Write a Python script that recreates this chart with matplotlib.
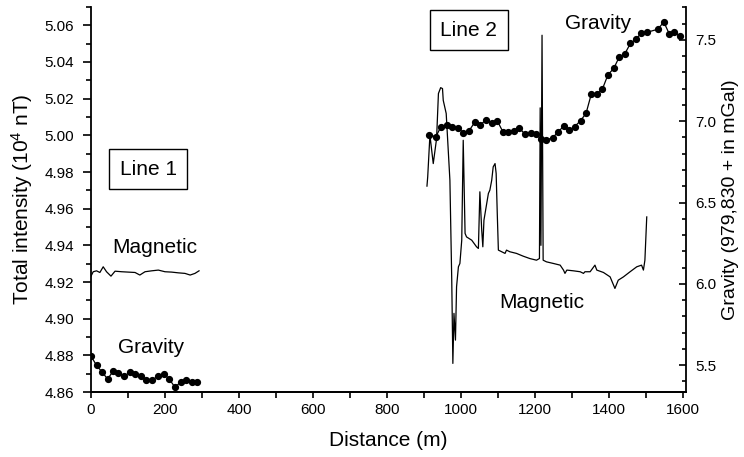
import matplotlib.pyplot as plt
from matplotlib.ticker import MultipleLocator, FormatStrFormatter

plt.rcParams['font.family'] = ['Liberation Sans', 'DejaVu Sans']
plt.rcParams['mathtext.default'] = 'regular'

# Line 1 - magnetic total intensity (10^4 nT)
mag1_dist = [0, 6, 15, 24, 33, 42, 54, 65, 83, 101,
             119, 132, 146, 164, 182, 200, 218, 236, 254, 268,
             281, 292]
mag1_val = [4.9232, 4.9256, 4.9261, 4.9252, 4.9283, 4.9256, 4.9232, 4.9259, 4.9256, 4.9254,
            4.9252, 4.9238, 4.9256, 4.9261, 4.9265, 4.9256, 4.9254, 4.9250, 4.9247, 4.9238,
            4.9247, 4.9261]

# Line 1 - gravity stations (mGal above 979,830)
grav1_dist = [0, 15, 29, 45, 60, 74, 90, 105, 119, 135,
              150, 166, 182, 197, 212, 227, 242, 257, 272, 287]
grav1_val = [5.555, 5.498, 5.459, 5.414, 5.463, 5.449, 5.430, 5.457, 5.445, 5.432,
             5.408, 5.408, 5.434, 5.446, 5.412, 5.363, 5.395, 5.406, 5.395, 5.395]

# Line 2 - magnetic total intensity
mag2_dist = [908, 910, 916, 925, 934, 939, 945, 950, 952, 960,
             970, 975, 978, 981, 985, 988, 993, 997, 1002, 1006,
             1011, 1015, 1029, 1042, 1047, 1051, 1056, 1059, 1062, 1068,
             1074, 1078, 1083, 1087, 1092, 1095, 1098, 1101, 1110, 1119,
             1123, 1132, 1150, 1168, 1186, 1204, 1212, 1214, 1216, 1219,
             1222, 1231, 1250, 1268, 1277, 1281, 1286, 1304, 1322, 1331,
             1335, 1349, 1362, 1367, 1385, 1403, 1416, 1425, 1439, 1457,
             1475, 1488, 1493, 1497, 1502]
mag2_val = [4.9723, 4.9773, 5.0001, 4.9846, 4.9982, 5.0228, 5.0260, 5.0255, 5.0191, 5.0119,
            4.9755, 4.9210, 4.8756, 4.9029, 4.8883, 4.9174, 4.9283, 4.9301, 4.9428, 4.9973,
            4.9465, 4.9446, 4.9428, 4.9392, 4.9383, 4.9692, 4.9483, 4.9392, 4.9537, 4.9610,
            4.9683, 4.9701, 4.9755, 4.9828, 4.9846, 4.9792, 4.9574, 4.9374, 4.9365, 4.9356,
            4.9374, 4.9365, 4.9356, 4.9341, 4.9328, 4.9319, 4.9328, 5.0150, 4.9400, 5.0546,
            4.9319, 4.9310, 4.9301, 4.9292, 4.9265, 4.9247, 4.9265, 4.9261, 4.9256, 4.9247,
            4.9256, 4.9256, 4.9292, 4.9265, 4.9252, 4.9228, 4.9165, 4.9210, 4.9228, 4.9256,
            4.9283, 4.9292, 4.9265, 4.9319, 4.9555]

# Line 2 - gravity stations
grav2_dist = [914, 932, 946, 961, 977, 991, 1006, 1022, 1038, 1051,
              1068, 1083, 1098, 1113, 1128, 1143, 1158, 1173, 1188, 1203,
              1216, 1231, 1248, 1263, 1278, 1293, 1307, 1323, 1338, 1352,
              1368, 1382, 1397, 1413, 1428, 1442, 1458, 1472, 1487, 1502,
              1532, 1548, 1563, 1577, 1592]
grav2_val = [6.915, 6.905, 6.967, 6.975, 6.967, 6.961, 6.930, 6.942, 6.997, 6.977,
             7.008, 6.991, 7.003, 6.936, 6.936, 6.942, 6.957, 6.920, 6.930, 6.922,
             6.889, 6.885, 6.899, 6.936, 6.971, 6.946, 6.967, 7.003, 7.049, 7.166,
             7.168, 7.197, 7.285, 7.326, 7.397, 7.412, 7.479, 7.504, 7.541, 7.547,
             7.566, 7.611, 7.537, 7.547, 7.525]

fig = plt.figure(figsize=(7.44, 4.57), dpi=100)
ax = fig.add_axes([0.1223, 0.1422, 0.7997, 0.8425])
ax2 = ax.twinx()

# magnetic traces on the left axis
ax.plot(mag1_dist, mag1_val, color='black', lw=0.9)
ax.plot(mag2_dist, mag2_val, color='black', lw=0.9)

# gravity stations on the right axis
ax2.plot(grav1_dist, grav1_val, color='black', lw=0.9, marker='o', ms=4.2)
ax2.plot(grav2_dist, grav2_val, color='black', lw=0.9, marker='o', ms=4.2)

ax.set_xlim(0, 1608)
ax.set_ylim(4.86, 5.07)
ax2.set_ylim(5.334, 7.703)

for a in (ax, ax2):
    a.spines['top'].set_visible(False)
    for s in a.spines.values():
        s.set_linewidth(1.3)
ax.spines['right'].set_visible(False)
ax2.spines['left'].set_visible(False)

ax.xaxis.set_major_locator(MultipleLocator(200))
ax.xaxis.set_minor_locator(MultipleLocator(100))
ax.yaxis.set_major_locator(MultipleLocator(0.02))
ax.yaxis.set_minor_locator(MultipleLocator(0.01))
ax.yaxis.set_major_formatter(FormatStrFormatter('%.2f'))
ax2.yaxis.set_major_locator(MultipleLocator(0.5))
ax2.yaxis.set_minor_locator(MultipleLocator(0.1))
ax2.yaxis.set_major_formatter(FormatStrFormatter('%.1f'))

ax.tick_params(axis='x', which='both', direction='out', length=4, width=1.2, labelsize=11, pad=4)
ax.tick_params(axis='y', which='major', direction='out', length=6, width=1.2, labelsize=11, pad=6)
ax.tick_params(axis='y', which='minor', direction='out', length=3.5, width=1.2)
ax2.tick_params(axis='y', which='major', direction='in', length=5, width=1.2, labelsize=11, pad=7)
ax2.tick_params(axis='y', which='minor', direction='in', length=3, width=1.2)

ax.set_xlabel('Distance (m)', fontsize=15, labelpad=10)
ax.set_ylabel('Total intensity (10$^4$ nT)', fontsize=15, labelpad=7)
ax2.set_ylabel('Gravity (979,830 + in mGal)', fontsize=14, labelpad=4)

box = dict(boxstyle='square,pad=0.5', fc='white', ec='black', lw=1.0)
ax.text(155, 4.9815, 'Line 1', fontsize=15, ha='center', va='center', bbox=box)
ax.text(1021, 5.0573, 'Line 2', fontsize=15, ha='center', va='center', bbox=box)
ax.text(172, 4.939, 'Magnetic', fontsize=15, ha='center', va='center')
ax.text(162, 4.8845, 'Gravity', fontsize=15, ha='center', va='center')
ax.text(1371, 5.0611, 'Gravity', fontsize=15, ha='center', va='center')
ax.text(1219, 4.909, 'Magnetic', fontsize=15, ha='center', va='center')

fig.savefig('out.png', dpi=100)
